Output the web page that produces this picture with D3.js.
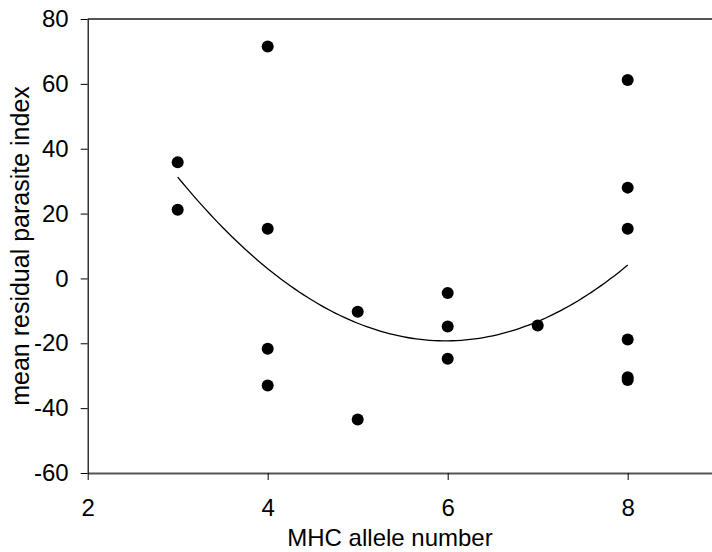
<!DOCTYPE html>
<html>
<head>
<meta charset="utf-8">
<script src="https://cdn.jsdelivr.net/npm/d3@7"></script>
<style>
  html, body { margin: 0; padding: 0; background: #fff; }
  svg { display: block; }
  text { font-family: "Liberation Sans", Arial, sans-serif; fill: #000; }
</style>
</head>
<body>
<svg id="chart" width="712" height="552"></svg>
<script>
// MHC allele number (x) and mean residual parasite index (y)
const alleleNumber = [3, 3, 4, 4, 4, 4, 5, 5, 6, 6, 6, 7, 8, 8, 8, 8, 8, 8];
const parasiteIndex = [35.8, 21.2, 71.5, 15.3, -21.7, -33.0, -10.3, -43.5, -4.5, -14.8, -24.8, -14.5, 61.2, 28.0, 15.3, -18.8, -30.5, -31.3];
const xTicks = [2, 4, 6, 8];
const yTicks = [-60, -40, -20, 0, 20, 40, 60, 80];
const xTitle = "MHC allele number";
const yTitle = "mean residual parasite index";

(function () {
const svg = d3.select("#chart");
const mLeft = 87.7, mTop = 19, mBottom = 473;
const x = d3.scaleLinear().domain([2, 9]).range([mLeft, mLeft + 7 * 90]);
const y = d3.scaleLinear().domain([-60, 80]).range([mBottom, mTop]);
const fmt = d => String(d);

// quadratic least-squares fit y = a + b x + c x^2
function quadFit(xs, ys) {
  const n = xs.length;
  const S = [0,0,0,0,0], T = [0,0,0];
  for (let i = 0; i < n; i++) {
    let p = 1;
    for (let k = 0; k < 5; k++) { S[k] += p; if (k < 3) T[k] += p * ys[i]; p *= xs[i]; }
  }
  const M = [[S[0],S[1],S[2],T[0]],[S[1],S[2],S[3],T[1]],[S[2],S[3],S[4],T[2]]];
  for (let i = 0; i < 3; i++) {
    for (let j = i + 1; j < 3; j++) {
      const f = M[j][i] / M[i][i];
      for (let k = i; k < 4; k++) M[j][k] -= f * M[i][k];
    }
  }
  const r = [0,0,0];
  for (let i = 2; i >= 0; i--) {
    let s = M[i][3];
    for (let k = i + 1; k < 3; k++) s -= M[i][k] * r[k];
    r[i] = s / M[i][i];
  }
  return r;
}
const coef = quadFit(alleleNumber, parasiteIndex);
const xMin = d3.min(alleleNumber), xMax = d3.max(alleleNumber);
const fitPts = d3.range(0, 101).map(i => {
  const xv = xMin + (xMax - xMin) * i / 100;
  return [xv, coef[0] + coef[1] * xv + coef[2] * xv * xv];
});

// top frame line (grey)
svg.append("line").attr("x1", mLeft).attr("x2", 712).attr("y1", y(80)).attr("y2", y(80))
  .attr("stroke", "#555").attr("stroke-width", 2);

// x axis
const xAxis = svg.append("g").attr("transform", `translate(0,${mBottom})`)
  .call(d3.axisBottom(x).tickValues(xTicks).tickFormat(fmt).tickSize(7).tickSizeOuter(0).tickPadding(19));
xAxis.select(".domain").attr("stroke", "#555").attr("stroke-width", 2);
xAxis.selectAll(".tick line").attr("stroke", "#000").attr("stroke-width", 1);
xAxis.selectAll(".tick text").attr("font-size", 24).attr("font-family", "Liberation Sans, Arial, sans-serif").attr("fill", "#000");

// y axis
const yAxis = svg.append("g").attr("transform", `translate(${mLeft},0)`)
  .call(d3.axisLeft(y).tickValues(yTicks).tickFormat(fmt).tickSize(7).tickSizeOuter(0).tickPadding(12));
yAxis.select(".domain").attr("stroke", "#000").attr("stroke-width", 1.2);
yAxis.selectAll(".tick line").attr("stroke", "#000").attr("stroke-width", 1);
yAxis.selectAll(".tick text").attr("font-size", 24).attr("font-family", "Liberation Sans, Arial, sans-serif").attr("fill", "#000");

// fitted curve
svg.append("path").datum(fitPts)
  .attr("d", d3.line().x(d => x(d[0])).y(d => y(d[1])))
  .attr("fill", "none").attr("stroke", "#000").attr("stroke-width", 1.3);

// points
svg.append("g").selectAll("circle").data(alleleNumber.map((v, i) => [v, parasiteIndex[i]]))
  .join("circle")
  .attr("cx", d => x(d[0])).attr("cy", d => y(d[1])).attr("r", 6).attr("fill", "#000");

// titles
svg.append("text").attr("x", 390).attr("y", 546)
  .attr("text-anchor", "middle").attr("font-size", 24).text(xTitle);
svg.append("text").attr("transform", `translate(29,${(mTop + mBottom) / 2}) rotate(-90)`)
  .attr("text-anchor", "middle").attr("font-size", 25).text(yTitle);
})();
</script>
</body>
</html>
